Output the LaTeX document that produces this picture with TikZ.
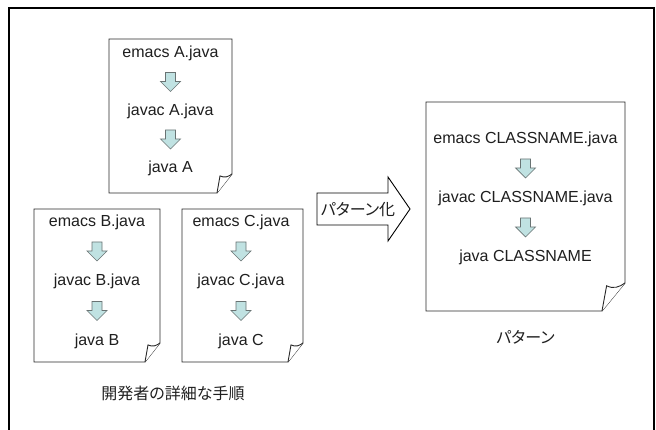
\documentclass[tikz,border=0pt]{standalone}
\usepackage{fontspec}
\setmainfont{Liberation Sans}
\newfontfamily\jpfont[RawFeature=+palt]{Noto Sans CJK JP}
\usetikzlibrary{calc}

\definecolor{arrowfill}{RGB}{192,226,226}
\definecolor{arrowline}{RGB}{105,115,115}
\definecolor{pageline}{RGB}{40,40,40}

\tikzset{
  x=1pt, y=-1pt,
  page/.style={draw=pageline, line width=0.9pt, fill=white, line join=miter},
  stepcmd/.style={font=\fontsize{16}{19}\selectfont, inner sep=0pt, text=black!88},
  caption/.style={font=\jpfont\fontsize{16}{19}\selectfont, inner sep=0pt, text=black!88},
  flowarrow/.style={draw=arrowline, fill=arrowfill, line width=0.7pt, line join=miter},
  downarr/.pic={
    \draw[flowarrow] (-5,-9.5) -- (5,-9.5) -- (5,-0.5) -- (10,-0.5) -- (0,9.5)
      -- (-10,-0.5) -- (-5,-0.5) -- cycle;
  },
}

% page with a folded lower right corner: left, top, right, bottom, fold width, fold height
\newcommand\foldedpage[6]{%
  \draw[page] (#1,#2) -- (#3,#2) -- (#3,#4-#6) -- (#3-#5,#4) -- (#1,#4) -- cycle;
  \draw[page] (#3-#5,#4) -- (#3-0.8*#5,#4-0.9*#6)
    .. controls (#3-0.5*#5,#4-0.78*#6) and (#3-0.25*#5,#4-0.85*#6) .. (#3,#4-#6);
}
% block arrow half way between two text nodes
\newcommand\stepdown[2]{\path ($(#1)!0.5!(#2)$) pic {downarr};}

\begin{document}
\begin{tikzpicture}
\useasboundingbox (0,0) rectangle (656,430);

% outer frame, open at the bottom
\draw[line width=2pt] (8.5,432) -- (8.5,8) -- (653.5,8) -- (653.5,432);

% developer's steps for A, B and C
\foldedpage{109}{39}{232}{193}{15}{19}
\node[stepcmd] (a1) at (170.5,53) {emacs A.java};
\node[stepcmd] (a2) at (170.5,111) {javac A.java};
\node[stepcmd] (a3) at (170.5,168) {java A};
\stepdown{a1}{a2}
\stepdown{a2}{a3}

\foldedpage{34}{209}{160}{362}{15}{19}
\node[stepcmd] (b1) at (97,222) {emacs B.java};
\node[stepcmd] (b2) at (97,281) {javac B.java};
\node[stepcmd] (b3) at (97,341) {java B};
\stepdown{b1}{b2}
\stepdown{b2}{b3}

\foldedpage{182}{209}{303}{362}{15}{19}
\node[stepcmd] (c1) at (241,222) {emacs C.java};
\node[stepcmd] (c2) at (241,281) {javac C.java};
\node[stepcmd] (c3) at (241,341) {java C};
\stepdown{c1}{c2}
\stepdown{c2}{c3}

\node[caption] (devcap) at (173,393) {開発者の詳細な手順};

% generalisation arrow
\draw[draw=black, line width=0.9pt, fill=white, line join=miter]
  (317,193) -- (388,193) -- (388,177) -- (410,209) -- (388,241) -- (388,225)
  -- (317,225) -- cycle;
\node[caption] (gen) at (358,210) {パターン化};

% the pattern
\foldedpage{426}{102}{625}{311}{23}{28}
\node[stepcmd] (p1) at (525.5,139) {emacs CLASSNAME.java};
\node[stepcmd] (p2) at (525.5,198) {javac CLASSNAME.java};
\node[stepcmd] (p3) at (525.5,257) {java CLASSNAME};
\stepdown{p1}{p2}
\stepdown{p2}{p3}

\node[caption] (patcap) at (525.5,337) {パターン};
\end{tikzpicture}
\end{document}
